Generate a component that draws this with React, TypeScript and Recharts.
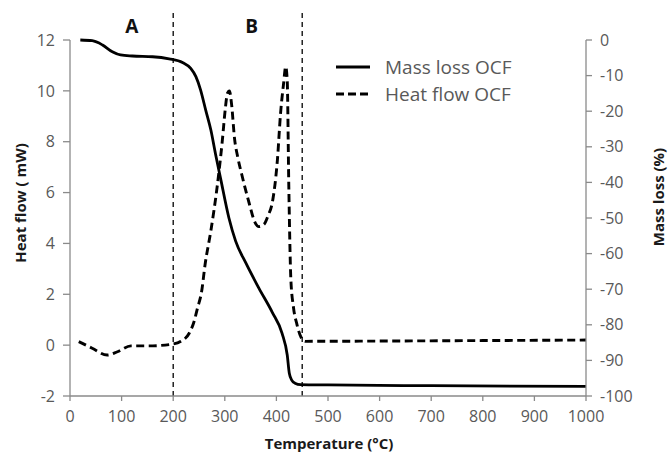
import React from 'react';
import { LineChart, Line, XAxis, YAxis, ReferenceLine, ReferenceDot, Legend } from 'recharts';

// ---- data ----
const temperatureTicks = [0, 100, 200, 300, 400, 500, 600, 700, 800, 900, 1000];
const heatFlowTicks = [-2, 0, 2, 4, 6, 8, 10, 12];
const massLossTicks = [-100, -90, -80, -70, -60, -50, -40, -30, -20, -10, 0];

const massLossT = [20, 43, 63, 82, 98, 121, 160, 192, 218, 234, 244, 253, 263, 273, 282, 292, 308, 321, 341, 366, 392, 411, 421, 425, 430, 436, 447, 500, 700, 1000];
const massLossV = [0, -0.2, -1.4, -3.3, -4.2, -4.5, -4.7, -5.3, -6.3, -8, -10.3, -14, -19.7, -25.3, -32, -39, -50, -56.5, -62.7, -69.7, -76.5, -82.4, -88.5, -93.6, -95.6, -96.4, -96.8, -96.9, -97.1, -97.3];

const heatFlowT = [17, 43, 72, 92, 118, 153, 195, 215, 231, 240, 247, 255, 262, 273, 285, 295, 301, 305, 309, 313, 319, 325, 333, 347, 358, 366, 376, 384, 392, 402, 408, 414, 418, 421, 424, 428, 433, 440, 448, 456, 600, 800, 1000];
const heatFlowV = [0.14, -0.12, -0.39, -0.26, -0.03, -0.03, 0.03, 0.15, 0.47, 0.9, 1.45, 2.1, 3.2, 4.5, 6.2, 8.0, 9.3, 9.9, 10.0, 9.5, 8.1, 7.4, 6.7, 5.6, 4.85, 4.66, 4.75, 5.1, 5.6, 7.3, 9.1, 10.3, 10.95, 10.4, 6.3, 2.6, 1.5, 0.8, 0.3, 0.15, 0.16, 0.18, 0.2];

const regionBounds = [200, 450];
const regionLabels = ['A', 'B'];
const regionLabelT = [120, 352];

const seriesNames = ['Mass loss OCF', 'Heat flow OCF'];

// ---- styles ----
const font = '"Open Sans", "Noto Sans", sans-serif';
const axisColor = '#8a8a8a';
const tickColor = '#595959';
const titleColor = '#1a1a1a';

const massData = massLossT.map((t, i) => ({ t, v: massLossV[i] }));
const heatData = heatFlowT.map((t, i) => ({ t, v: heatFlowV[i] }));

const renderLegend = () => (
  <svg width={230} height={64} style={{ display: 'block' }}>
    <line x1={6} x2={40} y1={15} y2={15} stroke="#000" strokeWidth={2.8} />
    <text x={55} y={21.5} fontFamily={font} fontSize={19} fill={tickColor}>{seriesNames[0]}</text>
    <line x1={6} x2={40} y1={42} y2={42} stroke="#000" strokeWidth={2.8} strokeDasharray="8 4" />
    <text x={55} y={48.5} fontFamily={font} fontSize={19} fill={tickColor}>{seriesNames[1]}</text>
  </svg>
);

export default function App() {
  return (
    <div style={{ position: 'absolute', left: 0, top: 0, width: 669, height: 455, background: '#fff' }}>
      <LineChart width={669} height={455} margin={{ top: 40, right: 23, bottom: 29, left: 0 }}>
        <XAxis
          dataKey="t"
          type="number"
          domain={[0, 1000]}
          ticks={temperatureTicks}
          interval={0}
          height={30}
          axisLine={{ stroke: axisColor, strokeWidth: 1.3 }}
          tickLine={{ stroke: axisColor, strokeWidth: 1.3 }}
          tickSize={5}
          tickMargin={10}
          tick={{ fill: tickColor, fontSize: 16, fontFamily: font }}
        />
        <YAxis
          yAxisId="left"
          type="number"
          domain={[-2, 12]}
          ticks={heatFlowTicks}
          interval={0}
          width={70}
          axisLine={{ stroke: axisColor, strokeWidth: 1.3 }}
          tickLine={{ stroke: axisColor, strokeWidth: 1.3 }}
          tickSize={7}
          tickMargin={8}
          tick={{ fill: tickColor, fontSize: 16, fontFamily: font }}
        />
        <YAxis
          yAxisId="right"
          orientation="right"
          type="number"
          domain={[-100, 0]}
          ticks={massLossTicks}
          interval={0}
          width={60}
          axisLine={{ stroke: axisColor, strokeWidth: 1.3 }}
          tickLine={{ stroke: axisColor, strokeWidth: 1.3 }}
          tickSize={6}
          tickMargin={8}
          tick={{ fill: tickColor, fontSize: 16, fontFamily: font }}
        />
        {regionBounds.map((b) => (
          <ReferenceLine
            key={b}
            yAxisId="left"
            segment={[{ x: b, y: -2 }, { x: b, y: 13.2 }]}
            ifOverflow="visible"
            stroke="#000"
            strokeWidth={1.3}
            strokeDasharray="5 4"
          />
        ))}
        {regionLabels.map((l, i) => (
          <ReferenceDot
            key={l}
            yAxisId="left"
            x={regionLabelT[i]}
            y={12.55}
            r={1}
            fill="none"
            stroke="none"
            ifOverflow="visible"
            label={{ value: l, position: 'center', fill: '#111', fontSize: 19, fontWeight: 700, fontFamily: font }}
          />
        ))}
        <Line
          yAxisId="left"
          data={heatData}
          dataKey="v"
          name={seriesNames[1]}
          type="monotone"
          stroke="#000"
          strokeWidth={2.9}
          strokeDasharray="8 4.5"
          dot={false}
          activeDot={false}
          isAnimationActive={false}
        />
        <Line
          yAxisId="right"
          data={massData}
          dataKey="v"
          name={seriesNames[0]}
          type="monotone"
          stroke="#000"
          strokeWidth={2.8}
          dot={false}
          activeDot={false}
          isAnimationActive={false}
        />
        <Legend
          layout="horizontal"
          verticalAlign="middle"
          align="center"
          content={renderLegend}
          wrapperStyle={{ left: 330, top: 52, width: 230, height: 64 }}
        />
      </LineChart>
      <svg width={669} height={455} style={{ position: 'absolute', left: 0, top: 0, pointerEvents: 'none' }}>
        <text x={329} y={449} textAnchor="middle" fontFamily={font} fontSize={15} fontWeight={700} fill={titleColor}>
          Temperature (°C)
        </text>
        <text x={0} y={0} transform="translate(26,203) rotate(-90)" textAnchor="middle" fontFamily={font} fontSize={15} fontWeight={700} fill={titleColor}>
          Heat flow ( mW)
        </text>
        <text x={0} y={0} transform="translate(664,197) rotate(-90)" textAnchor="middle" fontFamily={font} fontSize={15} fontWeight={700} fill={titleColor}>
          Mass loss (%)
        </text>
      </svg>
    </div>
  );
}
